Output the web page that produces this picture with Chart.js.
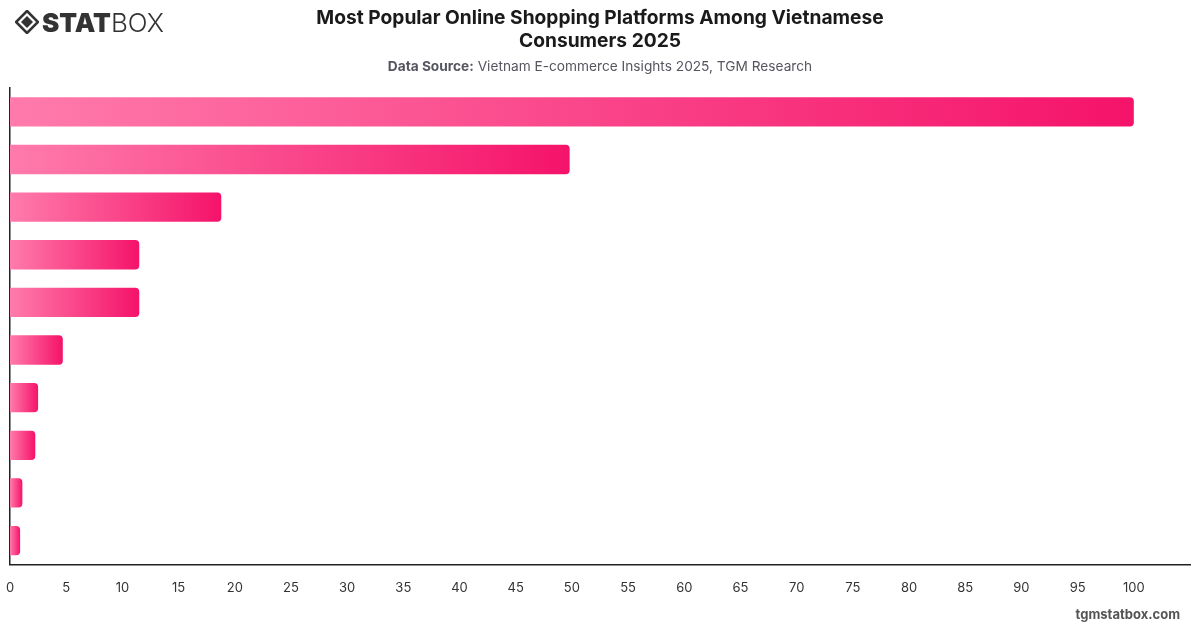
<!DOCTYPE html>
<html>
<head>
<meta charset="utf-8">
<script src="https://cdn.jsdelivr.net/npm/chart.js@4.4.1/dist/chart.umd.min.js"></script>
<style>
  html, body { margin: 0; padding: 0; background: #ffffff; }
  body { width: 1200px; height: 628px; position: relative; overflow: hidden; font-family: Inter, "Noto Sans", sans-serif; }
  #wrap { position: absolute; left: 0; top: 0; width: 1200px; height: 628px; }
  .title { position: absolute; left: 0; width: 1200px; top: 6px; text-align: center; font-size: 19.2px; font-weight: 700; line-height: 23px; color: #1a1a1a; }
  .sub { position: absolute; left: 0; width: 1200px; top: 58px; text-align: center; font-size: 13.7px; color: #55555f; }
  .sub b { font-weight: 700; }
  .logo { position: absolute; left: 15px; top: 8px; height: 28px; display: flex; align-items: center; color: #333; }
  .logo .stat { font-size: 26px; font-weight: 900; letter-spacing: 0px; margin-left: 3px; }
  .logo .box { font-size: 26px; font-weight: 300; }
  .foot { position: absolute; right: 20px; top: 606px; font-size: 13px; font-weight: 700; color: #555; }
</style>
</head>
<body>
<div id="wrap"><canvas id="c" width="1200" height="628"></canvas></div>
<div class="logo">
  <svg width="24" height="24" viewBox="0 0 24 24">
    <polygon points="12,1 23,12 12,23 1,12" fill="none" stroke="#333" stroke-width="2.6"/>
    <polygon points="12,6 18,12 12,18 6,12" fill="#333"/>
  </svg>
  <span class="stat">STAT</span><span class="box">BOX</span>
</div>
<div class="title">Most Popular Online Shopping Platforms Among Vietnamese<br>Consumers 2025</div>
<div class="sub"><b>Data Source:</b> Vietnam E-commerce Insights 2025, TGM Research</div>
<div class="foot">tgmstatbox.com</div>
<script>
const categories = ["Shopee", "TikTok Shop", "Lazada", "Tiki", "Facebook", "Sendo", "Zalo", "Instagram", "Amazon", "Others"];
const shareValues = [100, 49.8, 18.8, 11.5, 11.5, 4.7, 2.5, 2.25, 1.1, 0.9];
const xTickMax = 105;
const gradientStart = "#ff7bab";
const gradientEnd = "#f5136a";

function barGradient(context) {
  const chart = context.chart;
  const area = chart.chartArea;
  if (!area || context.type !== 'data') return gradientEnd;
  const xs = chart.scales.x;
  const x0 = xs.getPixelForValue(0);
  const x1 = xs.getPixelForValue(context.raw);
  const g = chart.ctx.createLinearGradient(x0, 0, Math.max(x1, x0 + 1), 0);
  g.addColorStop(0, gradientStart);
  g.addColorStop(1, gradientEnd);
  return g;
}

new Chart(document.getElementById('c'), {
  type: 'bar',
  data: {
    labels: categories,
    datasets: [{
      data: shareValues,
      backgroundColor: barGradient,
      borderRadius: 4,
      borderSkipped: 'start',
      categoryPercentage: 0.8,
      barPercentage: 0.77
    }]
  },
  options: {
    indexAxis: 'y',
    responsive: false,
    animation: false,
    devicePixelRatio: 1,
    layout: { padding: { top: 88, left: 10, right: 10, bottom: 16 } },
    plugins: { legend: { display: false }, tooltip: { enabled: false }, title: { display: false } },
    scales: {
      x: {
        min: 0,
        max: xTickMax,
        grid: { display: false, drawTicks: false, tickLength: 0 },
        border: { display: true, color: '#222', width: 1.5 },
        ticks: {
          stepSize: 5,
          padding: 16,
          color: '#333',
          font: { family: 'Inter', size: 13 },
          callback: (v) => (v > 100 ? '' : v)
        },
        afterFit: (s) => { s.paddingLeft = 0; s.paddingRight = 0; }
      },
      y: {
        grid: { display: false, drawTicks: false, tickLength: 0 },
        border: { display: true, color: '#222', width: 1.5 },
        ticks: { display: false },
        afterFit: (s) => { s.width = 0; s.paddingTop = 0; s.paddingBottom = 0; }
      }
    }
  }
});
</script>
</body>
</html>
